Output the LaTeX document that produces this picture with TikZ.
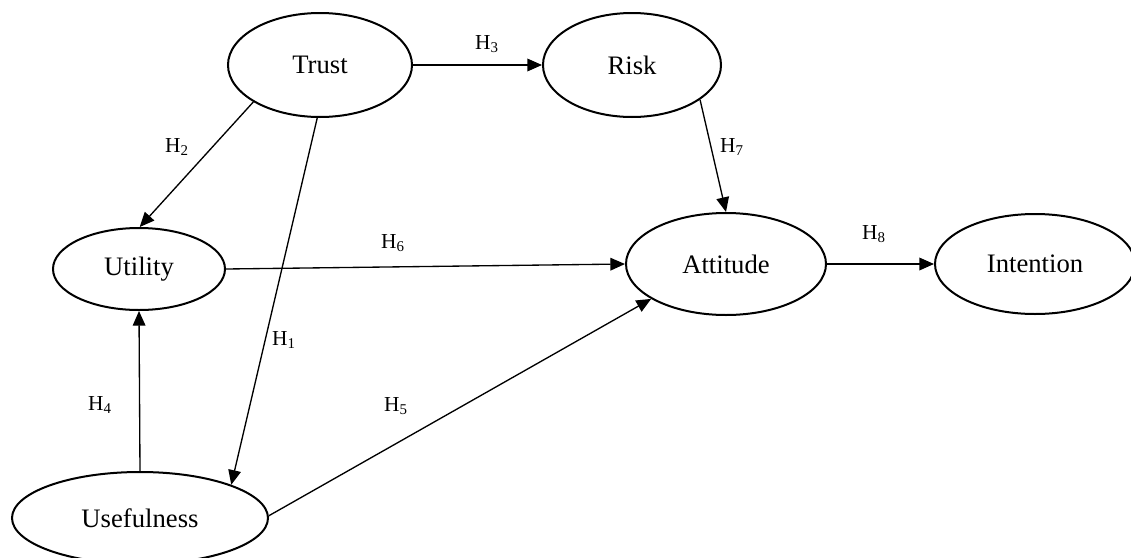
\documentclass[tikz,border=0pt]{standalone}
\usepackage{fontspec}
\setmainfont{Liberation Serif}
\usetikzlibrary{shapes.geometric,arrows.meta}
\begin{document}
\begin{tikzpicture}[x=0.75pt,y=-0.75pt,
  construct/.style={draw, ellipse, line width=1.5pt, inner sep=0pt, font=\fontsize{20}{24}\selectfont},
  link/.style={line width=1pt, -{Triangle[length=11pt,width=9.5pt]}},
  hyp/.style={anchor=base, inner sep=0pt, font=\fontsize{16}{19}\selectfont}]
\useasboundingbox (0,0) rectangle (1131,557);
\node[construct, minimum width=138pt, minimum height=78pt] (trust) at (320,65) {Trust};
\node[construct, minimum width=133.5pt, minimum height=78pt] (risk) at (632,65) {Risk};
\node[construct, minimum width=129pt, minimum height=61.5pt] (utility) at (139,269) {Utility};
\node[construct, minimum width=150pt, minimum height=76.5pt] (attitude) at (726,264) {Attitude};
\node[construct, minimum width=150pt, minimum height=75pt] (intention) at (1035,264) {Intention};
\node[construct, minimum width=192pt, minimum height=69pt] (usefulness) at (140,518) {Usefulness};

\draw[link] (trust.-93.3) -- (usefulness.20.7);
\draw[link] (trust.-151.5) -- (utility.89);
\draw[link] (trust.east) -- (risk.west);
\draw[link] (usefulness.north) -- (utility.south);
\draw[link] (usefulness.1) -- (attitude.-155);
\draw[link] (utility.east) -- (attitude.west);
\draw[link] (risk.-27.6) -- (attitude.north);
\draw[link] (attitude.east) -- (intention.west);

\node[hyp] (h1) at (284,345) {H\textsubscript{1}};
\node[hyp] (h2) at (177,152) {H\textsubscript{2}};
\node[hyp] (h3) at (487,49) {H\textsubscript{3}};
\node[hyp] (h4) at (100,410) {H\textsubscript{4}};
\node[hyp] (h5) at (396,411) {H\textsubscript{5}};
\node[hyp] (h6) at (393,248) {H\textsubscript{6}};
\node[hyp] (h7) at (732,152) {H\textsubscript{7}};
\node[hyp] (h8) at (874,239) {H\textsubscript{8}};
\end{tikzpicture}
\end{document}
